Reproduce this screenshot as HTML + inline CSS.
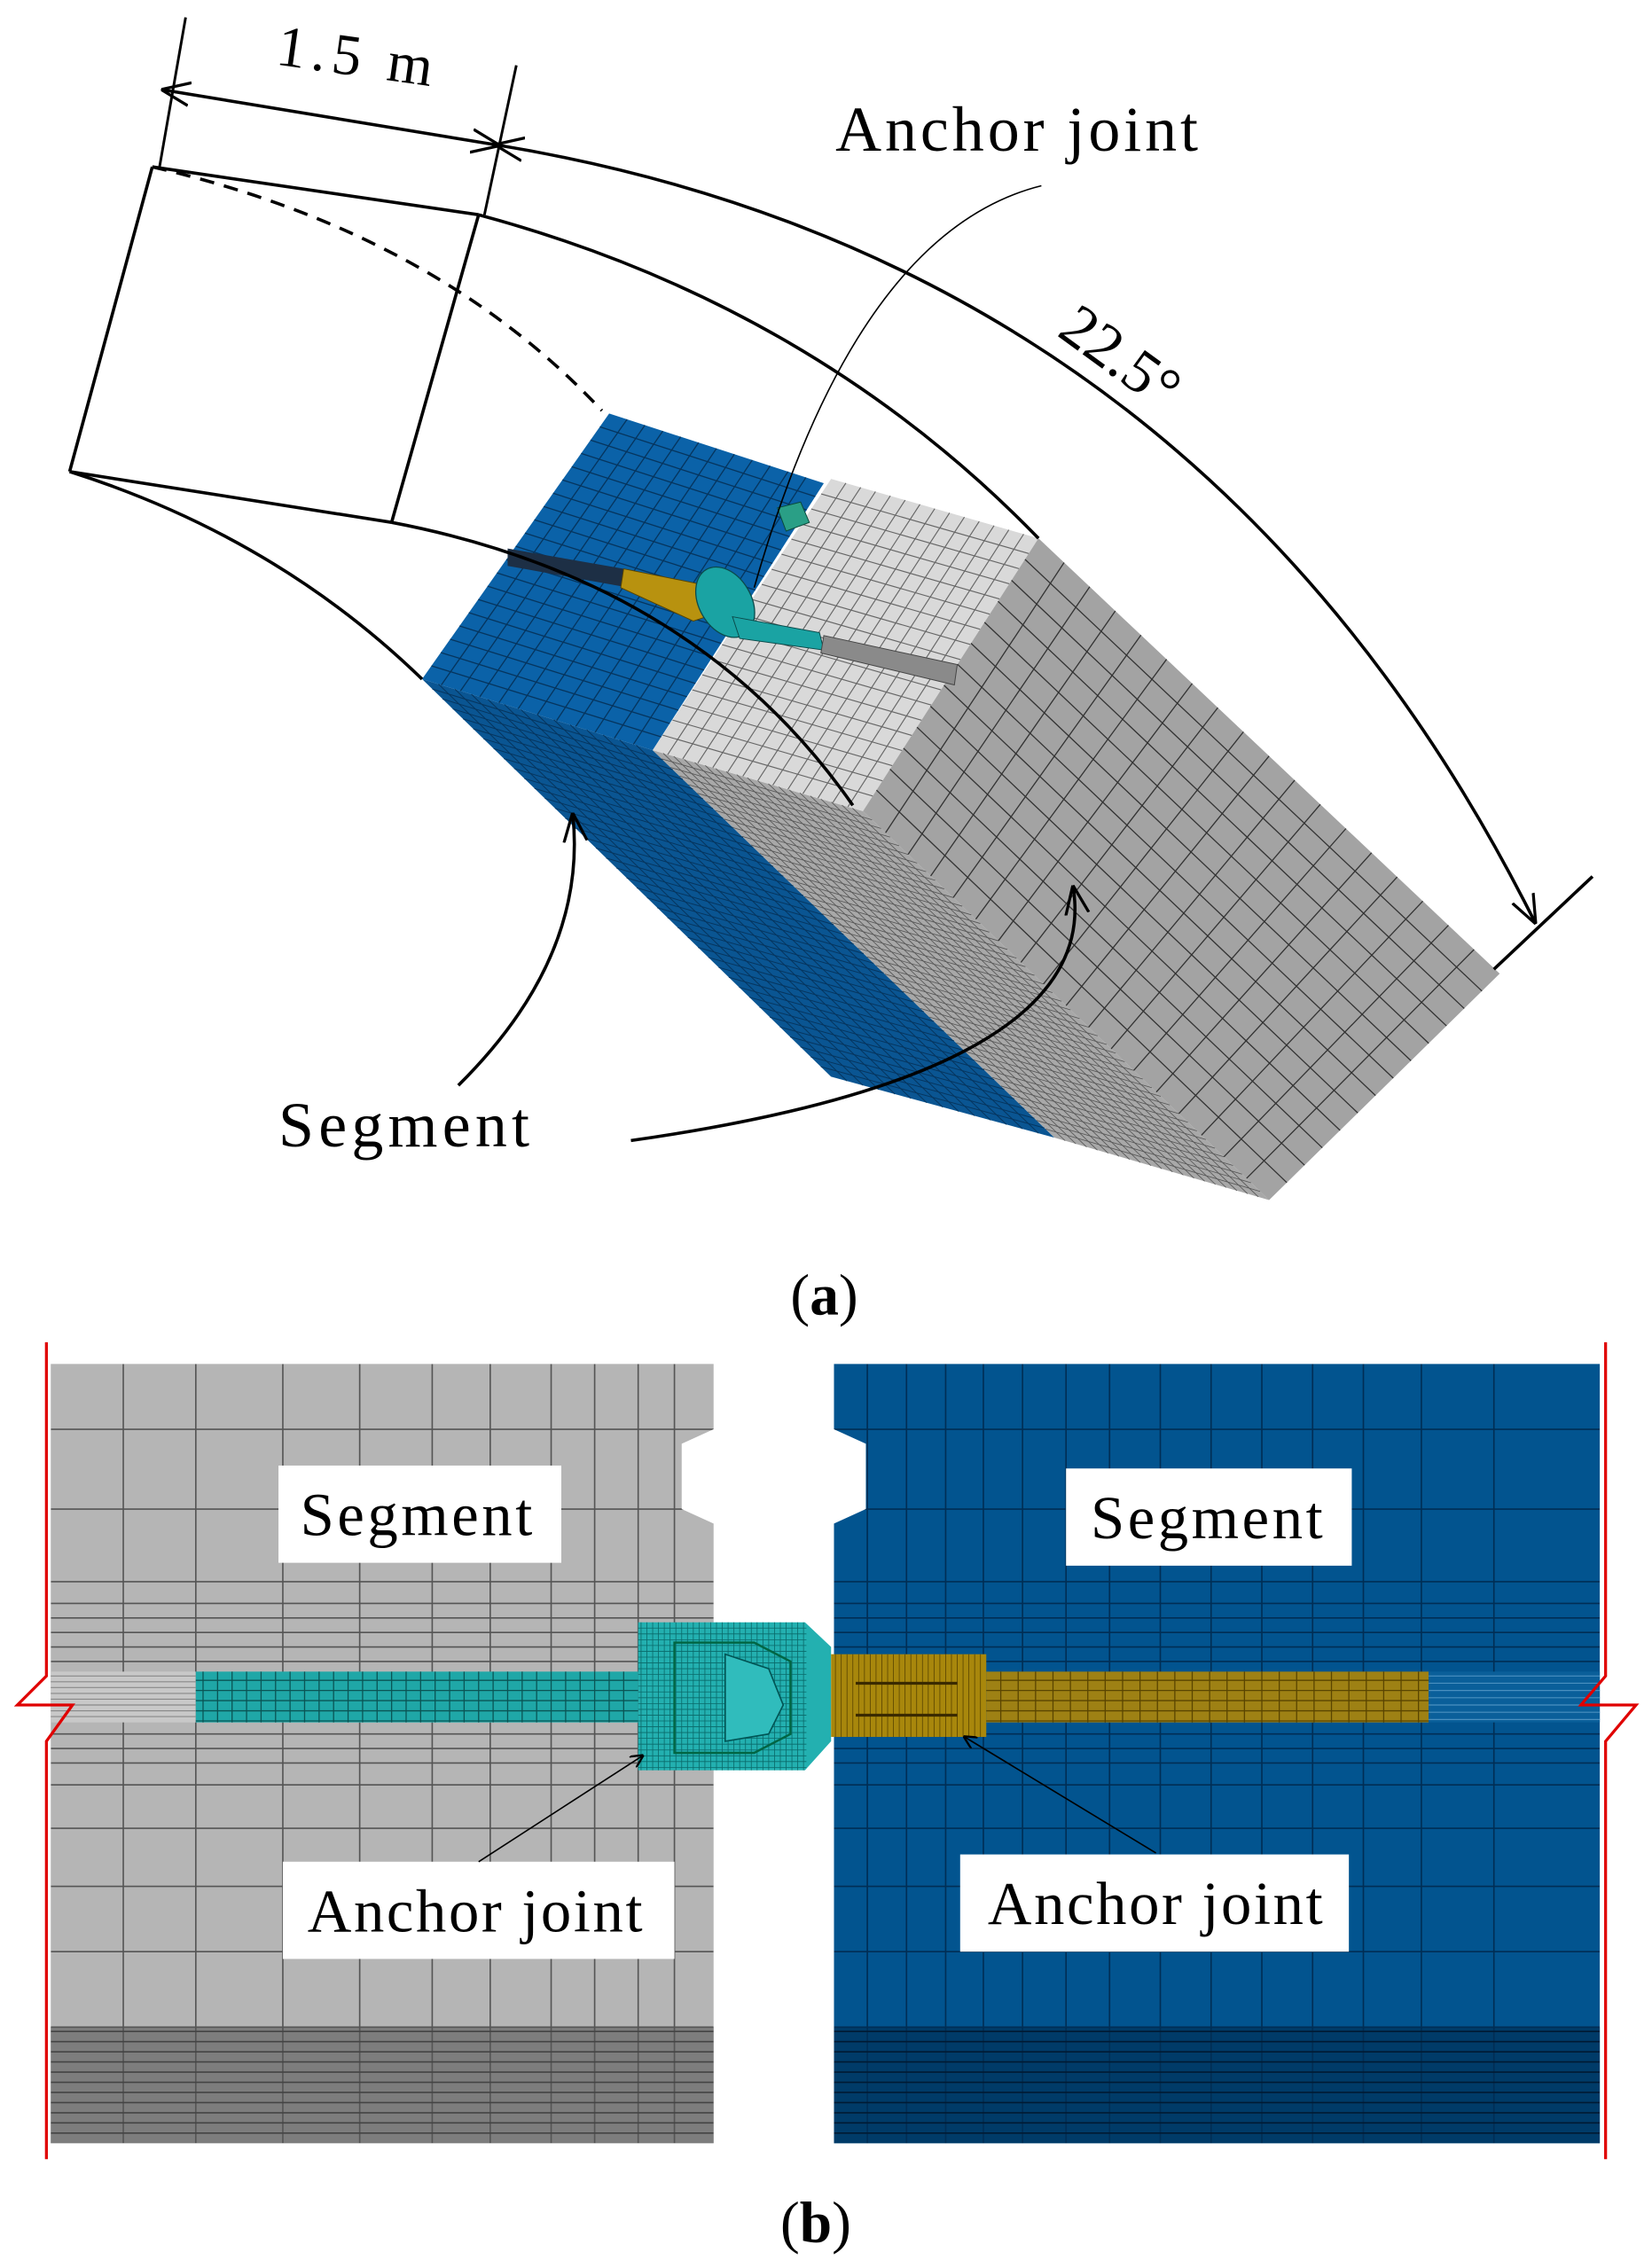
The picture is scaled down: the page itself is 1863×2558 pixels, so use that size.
<!DOCTYPE html>
<html><head><meta charset="utf-8"><style>
html,body{margin:0;padding:0;background:#fff;}
svg{display:block;}
text{font-family:"Liberation Serif",serif;fill:#000;}
</style></head><body>
<svg id="s" width="1863" height="2558" viewBox="0 0 1139 1563" preserveAspectRatio="none" xmlns="http://www.w3.org/2000/svg">
<defs>
<marker id="ah" viewBox="0 0 10 10" refX="9" refY="5" markerWidth="9" markerHeight="9" orient="auto-start-reverse" markerUnits="userSpaceOnUse">
<path d="M0,0 L10,5 L0,10" fill="none" stroke="#000" stroke-width="1.6"/></marker>
<marker id="ah2" viewBox="0 0 10 10" refX="9" refY="5" markerWidth="20" markerHeight="20" orient="auto-start-reverse" markerUnits="userSpaceOnUse">
<path d="M0,1 L10,5 L0,9" fill="none" stroke="#000" stroke-width="1"/></marker>
<clipPath id="cg"><path d="M35,940 H492 V985 L470,995 V1040 L492,1050 V1477 H35 Z"/></clipPath>
<clipPath id="cb"><path d="M575,940 H1103 V1477 H575 V1050 L597,1040 V995 L575,985 Z"/></clipPath>
</defs>

<!-- ===== (a) ===== -->
<g id="a3d">
<polygon points="291,468 450,517 727,784 573,742" fill="#0a5592"/>
<polygon points="420,285 568,333 450,517 291,468" fill="#0b62a8"/>
<polygon points="450,517 595,559 875,827 727,784" fill="#a8a8a8"/>
<polygon points="573,330 716,371 595,559 450,517" fill="#d9d9d9"/>
<polygon points="716,371 1034,671 875,827 595,559" fill="#a3a3a3"/>
<g id="m3d"></g>
<polygon points="350,378 430,392 428,404 350,390" fill="#1d2f45"/>
<polygon points="430,392 480,402 487,425 478,428 428,405" fill="#b8920f" stroke="#5a4500" stroke-width="0.6"/>
<ellipse cx="500" cy="415" rx="18" ry="26" transform="rotate(-30 500 415)" fill="#1aa3a3" stroke="#0a4a4a" stroke-width="0.8"/>
<polygon points="505,425 565,436 568,448 510,440" fill="#1aa3a3" stroke="#0a4a4a" stroke-width="0.6"/>
<polygon points="568,438 660,458 658,472 566,450" fill="#8a8a8a" stroke="#444" stroke-width="0.6"/>
<polygon points="536,350 552,346 558,360 542,366" fill="#2a9f86" stroke="#0a4a3a" stroke-width="0.6"/>
</g>

<g fill="none" stroke="#000" stroke-width="2.2">
<line x1="48" y1="325" x2="105" y2="115"/>
<line x1="105" y1="115" x2="330" y2="148"/>
<line x1="330" y1="148" x2="270" y2="360"/>
<line x1="48" y1="325" x2="270" y2="360"/>
<path d="M105,115 Q300,160 415,283" stroke-dasharray="10,7"/>
<path d="M330,148 Q560,210 716,371"/>
<path d="M48,325 Q190,370 291,468"/>
<path d="M270,360 Q480,400 588,555"/>
<line x1="128" y1="12" x2="110" y2="115" stroke-width="1.8"/>
<line x1="356" y1="45" x2="334" y2="148" stroke-width="1.8"/>
<line x1="113" y1="62" x2="343" y2="100" marker-start="url(#ah2)" marker-end="url(#ah2)"/>
<path d="M343,100 Q830,180 1058,635" marker-start="url(#ah2)" marker-end="url(#ah2)"/>
<line x1="1098" y1="604" x2="1030" y2="668"/>
<path d="M316,748 Q405,660 395,562" marker-end="url(#ah2)"/>
<path d="M435,786 Q760,740 740,612" marker-end="url(#ah2)"/>
<path d="M718,128 Q590,160 520,405" stroke-width="1"/>
</g>
<text x="190" y="52" font-size="40" textLength="108" transform="rotate(8 245 45)">1.5 m</text>
<text x="576" y="104" font-size="44" textLength="250">Anchor joint</text>
<text x="708" y="258" font-size="42" transform="rotate(36 760 275)">22.5°</text>
<text x="192" y="790" font-size="44" textLength="173">Segment</text>
<text x="545" y="906" font-size="40">(<tspan font-weight="bold">a</tspan>)</text>

<!-- ===== (b) ===== -->
<path d="M35,940 H492 V985 L470,995 V1040 L492,1050 V1477 H35 Z" fill="#b5b5b5"/>
<rect x="35" y="1397" width="457" height="80" fill="#7d7d7d"/>
<path d="M575,940 H1103 V1477 H575 V1050 L597,1040 V995 L575,985 Z" fill="#02548f"/>
<rect x="575" y="1397" width="528" height="80" fill="#003b68"/>
<g id="mbg" clip-path="url(#cg)"></g>
<g id="mbb" clip-path="url(#cb)"></g>
<rect x="35" y="1152" width="100" height="35" fill="#c8c8c8"/>
<rect x="135" y="1152" width="305" height="35" fill="#1fa7a7"/>
<polygon points="440,1118 555,1118 573,1135 573,1200 555,1220 440,1220" fill="#23b0b0"/>
<rect x="573" y="1140" width="107" height="57" fill="#a8870c"/>
<rect x="680" y="1152" width="305" height="35" fill="#9e8114"/>
<rect x="985" y="1152" width="118" height="35" fill="#0a5f9a"/>
<g id="mbolt"></g>
<polygon points="465,1132 520,1132 545,1145 545,1195 520,1208 465,1208" fill="none" stroke="#064" stroke-width="1.5"/>
<polygon points="500,1140 530,1150 540,1175 530,1195 500,1200" fill="#30bcbc" stroke="#055" stroke-width="1"/>
<line x1="590" y1="1160" x2="660" y2="1160" stroke="#3a2a00" stroke-width="2"/>
<line x1="590" y1="1182" x2="660" y2="1182" stroke="#3a2a00" stroke-width="2"/>
<g fill="none" stroke="#e00000" stroke-width="2">
<path d="M32,925 V1155 L12,1175 L50,1175 L32,1200 V1488"/>
<path d="M1107,925 V1155 L1090,1175 L1128,1175 L1107,1200 V1488"/>
</g>
<rect x="192" y="1010" width="195" height="67" fill="#fff"/>
<text x="207" y="1058" font-size="42" textLength="160">Segment</text>
<rect x="735" y="1012" width="197" height="67" fill="#fff"/>
<text x="752" y="1060" font-size="42" textLength="160">Segment</text>
<rect x="195" y="1283" width="270" height="67" fill="#fff"/>
<text x="212" y="1331" font-size="42" textLength="231">Anchor joint</text>
<rect x="662" y="1278" width="268" height="67" fill="#fff"/>
<text x="681" y="1326" font-size="42" textLength="231">Anchor joint</text>
<line x1="330" y1="1283" x2="443" y2="1210" stroke="#000" stroke-width="1" marker-end="url(#ah)"/>
<line x1="797" y1="1277" x2="665" y2="1197" stroke="#000" stroke-width="1" marker-end="url(#ah)"/>
<text x="538" y="1545" font-size="40">(<tspan font-weight="bold">b</tspan>)</text>
</svg>
<script>
var NS="http://www.w3.org/2000/svg";
function L(g,x1,y1,x2,y2,c,w){var l=document.createElementNS(NS,"line");l.setAttribute("x1",x1);l.setAttribute("y1",y1);l.setAttribute("x2",x2);l.setAttribute("y2",y2);l.setAttribute("stroke",c);l.setAttribute("stroke-width",w);g.appendChild(l);}
function lerp(a,b,t){return [a[0]+(b[0]-a[0])*t,a[1]+(b[1]-a[1])*t];}
function quad(g,p0,p1,p2,p3,nu,nv,c,w){
 for(var i=1;i<nu;i++){var t=i/nu;var a=lerp(p0,p1,t),b=lerp(p3,p2,t);L(g,a[0],a[1],b[0],b[1],c,w);}
 for(var j=1;j<nv;j++){var t=j/nv;var a=lerp(p0,p3,t),b=lerp(p1,p2,t);L(g,a[0],a[1],b[0],b[1],c,w);}
}
var m=document.getElementById("m3d");
quad(m,[420,285],[568,333],[450,517],[291,468],12,20,"#06355e",0.8);
quad(m,[291,468],[450,517],[727,784],[573,742],14,40,"#06355e",0.6);
quad(m,[573,330],[716,371],[595,559],[450,517],14,18,"#666",0.7);
quad(m,[450,517],[595,559],[875,827],[727,784],20,45,"#555",0.5);
quad(m,[716,371],[1034,671],[875,827],[595,559],18,13,"#333",0.8);
var bg=document.getElementById("mbg"),bb=document.getElementById("mbb");
var gx=[85,135,195,248,298,338,380,410,440,465];
var gy=[985,1040,1090,1105,1115,1125,1135,1145,1195,1205,1215,1230,1260,1300,1345,1397];
gx.forEach(function(x){L(bg,x,940,x,1477,"#555",1);});
gy.forEach(function(y){L(bg,35,y,492,y,"#555",1);});
for(var y=1400;y<1477;y+=7)L(bg,35,y,492,y,"#444",1);
var bx=[598,625,652,678,705,735,765,800,835,870,905,940,980,1030];
bx.forEach(function(x){L(bb,x,940,x,1477,"#012e55",1);});
gy.forEach(function(y){L(bb,575,y,1103,y,"#012e55",1);});
for(var y=1400;y<1477;y+=7)L(bb,575,y,1103,y,"#001a33",1);
var mb=document.getElementById("mbolt");
for(var x=140;x<440;x+=10)L(mb,x,1152,x,1187,"#0a5555",0.8);
for(var y=1158;y<1187;y+=7)L(mb,135,y,440,y,"#0a5555",0.8);
for(var x=442;x<556;x+=4)L(mb,x,1118,x,1220,"#0a6a6a",0.5);
for(var y=1122;y<1220;y+=4)L(mb,440,y,556,y,"#0a6a6a",0.5);
for(var x=576;x<680;x+=4)L(mb,x,1140,x,1197,"#5a4500",0.5);
for(var x=690;x<985;x+=12)L(mb,x,1152,x,1187,"#5a4500",0.8);
for(var y=1158;y<1187;y+=7)L(mb,680,y,985,y,"#5a4500",0.8);
for(var y=1155;y<1187;y+=4)L(mb,35,y,135,y,"#888",0.7);
for(var y=1155;y<1187;y+=5)L(mb,985,y,1103,y,"#4a90c0",0.7);
</script>
</body></html>
